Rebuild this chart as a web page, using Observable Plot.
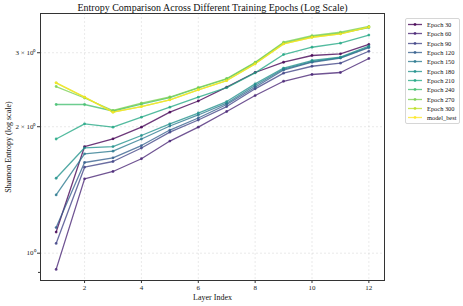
<!DOCTYPE html>
<html><head><meta charset="utf-8">
<script src="https://cdn.jsdelivr.net/npm/d3@7"></script>
<script src="https://cdn.jsdelivr.net/npm/@observablehq/plot@0.6"></script>
<style>
body{margin:0;background:#fff;}
#wrap{position:relative;width:463px;height:306px;font-family:"Liberation Serif","Times New Roman",serif;}
#legend{position:absolute;left:405px;top:18px;width:53px;padding:1px 0;border:1px solid #d6d6d6;border-radius:2px;background:#fff;font-size:6.4px;color:#111;}
.row{display:flex;align-items:center;height:9.3px;white-space:nowrap;}
.row svg{margin-left:2px;margin-right:5px;flex:none;}
</style></head><body><div id="wrap"></div>
<script>
const title = "Entropy Comparison Across Different Training Epochs (Log Scale)";
const xLabel = "Layer Index";
const yLabel = "Shannon Entropy (log scale)";
const layers = [1,2,3,4,5,6,7,8,9,10,11,12];
const seriesNames = ["Epoch 30","Epoch 60","Epoch 90","Epoch 120","Epoch 150","Epoch 180","Epoch 210","Epoch 240","Epoch 270","Epoch 300","model_best"];
const colors = ["#440154","#482475","#414487","#355f8d","#2a788e","#21918c","#22a884","#44bf70","#7ad151","#bddf26","#fde725"];
const xTicks = [2,4,6,8,10,12];
const yTicks = [1,2,3];
const yTickLabels = ["10⁰","2 × 10⁰","3 × 10⁰"];
const yMinorTicks = [0.9];

const epoch30  = [1.123,1.794,1.872,1.995,2.166,2.303,2.484,2.692,2.848,2.955,2.982,3.139];
const epoch60  = [0.915,1.503,1.565,1.678,1.849,1.995,2.174,2.373,2.566,2.663,2.692,2.907];
const epoch90  = [1.055,1.602,1.653,1.780,1.941,2.075,2.234,2.462,2.682,2.786,2.833,3.025];
const epoch120 = [1.151,1.644,1.687,1.804,1.964,2.098,2.259,2.484,2.729,2.848,2.914,3.087];
const epoch150 = [1.376,1.724,1.749,1.870,2.008,2.133,2.275,2.507,2.744,2.859,2.922,3.096];
const epoch180 = [1.508,1.782,1.794,1.906,2.032,2.156,2.296,2.530,2.759,2.875,2.930,3.113];
const epoch210 = [1.870,2.032,1.995,2.107,2.226,2.352,2.479,2.687,2.971,3.092,3.161,3.306];
const epoch240 = [2.259,2.259,2.180,2.265,2.347,2.473,2.598,2.838,3.164,3.279,3.342,3.444];
const epoch270 = [2.493,2.341,2.186,2.275,2.354,2.479,2.605,2.848,3.178,3.293,3.357,3.467];
const epoch300 = [2.544,2.352,2.166,2.234,2.318,2.449,2.576,2.823,3.150,3.266,3.327,3.454];
const modelBest= [2.544,2.352,2.166,2.234,2.318,2.449,2.576,2.823,3.150,3.266,3.327,3.454];

const allSeries = [epoch30,epoch60,epoch90,epoch120,epoch150,epoch180,epoch210,epoch240,epoch270,epoch300,modelBest];
const rows = allSeries.flatMap((vals, i) => vals.map((v, j) => ({series: seriesNames[i], layer: layers[j], value: v})));

const font = "Liberation Serif, Times New Roman, serif";
const chart = Plot.plot({
  width: 463, height: 306,
  marginLeft: 40, marginRight: 79, marginTop: 13, marginBottom: 26,
  style: {fontFamily: font, fontSize: "7px", background: "white", color: "#222"},
  x: {domain: [0.45, 12.55]},
  y: {type: "log", domain: [0.861, 3.72]},
  color: {domain: seriesNames, range: colors},
  marks: [
    Plot.gridX(xTicks, {stroke: "#b0b0b0", strokeOpacity: 0.45, strokeDasharray: "2,2", strokeWidth: 0.6}),
    Plot.gridY(yTicks, {stroke: "#b0b0b0", strokeOpacity: 0.45, strokeDasharray: "2,2", strokeWidth: 0.6}),
    Plot.line(rows, {x: "layer", y: "value", z: "series", stroke: "series", strokeWidth: 1.3, strokeOpacity: 0.78}),
    Plot.dot(rows, {x: "layer", y: "value", fill: "series", r: 1.4, fillOpacity: 0.8}),
    Plot.frame({stroke: "#333", strokeWidth: 1}),
    Plot.axisX(xTicks, {tickSize: 3, tickPadding: 1.5, label: null, stroke: "#333"}),
    Plot.axisY(yTicks, {tickSize: 3, tickPadding: 2, label: null, stroke: "#333", tickFormat: d => yTickLabels[yTicks.indexOf(d)]}),
    Plot.axisY(yMinorTicks, {tickSize: 2, label: null, stroke: "#333", tickFormat: () => ""}),
    Plot.text([title], {frameAnchor: "top", lineAnchor: "middle", textAnchor: "middle", dy: -6, fontSize: 10, fill: "#111"}),
    Plot.text([xLabel], {frameAnchor: "bottom", lineAnchor: "middle", textAnchor: "middle", dy: 17, fontSize: 8, fill: "#111"}),
    Plot.text([yLabel], {frameAnchor: "left", lineAnchor: "middle", textAnchor: "middle", dx: -32, rotate: -90, fontSize: 8, fill: "#111"})
  ]
});
const wrap = document.getElementById("wrap");
wrap.appendChild(chart);

const legend = document.createElement("div");
legend.id = "legend";
seriesNames.forEach((name, i) => {
  const row = document.createElement("div");
  row.className = "row";
  row.innerHTML = `<svg width="14" height="5"><line x1="0" y1="2.5" x2="14" y2="2.5" stroke="${colors[i]}" stroke-width="1.3" stroke-opacity="0.78"/><circle cx="7" cy="2.5" r="1.4" fill="${colors[i]}" fill-opacity="0.8"/></svg><span>${name}</span>`;
  legend.appendChild(row);
});
wrap.appendChild(legend);
</script>
</body></html>
